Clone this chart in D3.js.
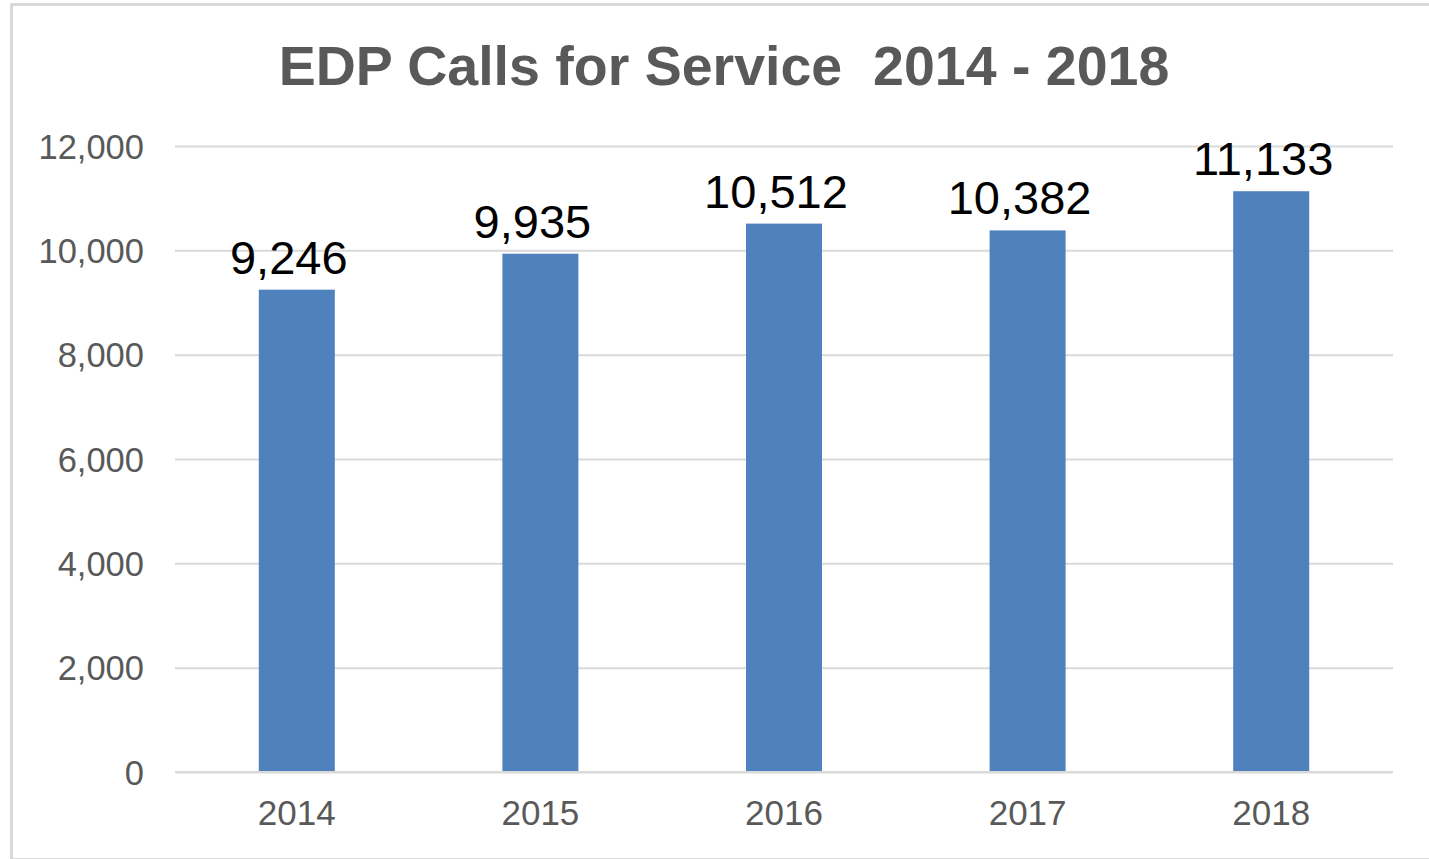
<!DOCTYPE html>
<html><head><meta charset="utf-8">
<script src="https://cdn.jsdelivr.net/npm/d3@7/dist/d3.min.js"></script>
<style>html,body{margin:0;padding:0;background:#fff;}svg{display:block;}</style>
</head><body>
<script>
const years = ["2014", "2015", "2016", "2017", "2018"];
const calls = [9246, 9935, 10512, 10382, 11133];
const yTicks = [0, 2000, 4000, 6000, 8000, 10000, 12000];
const title = "EDP Calls for Service  2014 - 2018";

const W = 1429, H = 859;
const svg = d3.select("body").append("svg").attr("width", W).attr("height", H);

svg.append("rect").attr("x", 11.5).attr("y", 4.5).attr("width", W - 10).attr("height", H - 4)
  .attr("fill", "#fff").attr("stroke", "#d9d9d9").attr("stroke-width", 3);

const plot = {left: 175, right: 1393, top: 146, bottom: 772};
const x = d3.scaleBand().domain(years).range([plot.left, plot.right]).paddingInner(0.688).paddingOuter(0.344);
const y = d3.scaleLinear().domain([0, 12000]).range([plot.bottom, plot.top]);
const font = "Arial, 'Liberation Sans', sans-serif";

svg.append("text").attr("x", 724).attr("y", 85).attr("text-anchor", "middle")
  .attr("font-family", font).attr("font-weight", "bold").attr("font-size", 55.5)
  .attr("fill", "#595959").style("white-space", "pre").text(title);

const yAxis = svg.append("g").attr("transform", `translate(${plot.left},0)`)
  .call(d3.axisLeft(y).tickValues(yTicks).tickFormat(d3.format(",")).tickSize(-(plot.right - plot.left)).tickPadding(31));
yAxis.select(".domain").remove();
yAxis.selectAll(".tick line").attr("stroke", "#d9d9d9").attr("stroke-width", 2);
yAxis.selectAll(".tick text").attr("font-family", font).attr("font-size", 34.5).attr("fill", "#595959").attr("dy", "0.35em");

const xAxis = svg.append("g").attr("transform", `translate(0,${plot.bottom})`)
  .call(d3.axisBottom(x).tickSize(0).tickPadding(28));
xAxis.select(".domain").remove();
xAxis.selectAll(".tick text").attr("font-family", font).attr("font-size", 35).attr("fill", "#595959");

svg.append("g").selectAll("rect").data(calls).join("rect")
  .attr("x", (d, i) => x(years[i])).attr("width", x.bandwidth())
  .attr("y", d => y(d)).attr("height", d => y(0) - y(d))
  .attr("fill", "#4f81bd");

svg.append("line").attr("x1", plot.left).attr("x2", plot.right).attr("y1", y(0)).attr("y2", y(0))
  .attr("stroke", "#d9d9d9").attr("stroke-width", 2);

svg.append("g").selectAll("text").data(calls).join("text")
  .attr("x", (d, i) => x(years[i]) + x.bandwidth() / 2 - 8).attr("y", d => y(d) - 16)
  .attr("text-anchor", "middle").attr("font-family", font).attr("font-size", 47).attr("fill", "#000")
  .text(d => d3.format(",")(d));
</script>
</body></html>
